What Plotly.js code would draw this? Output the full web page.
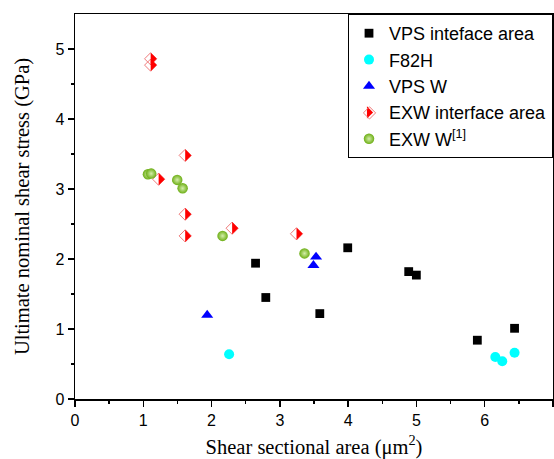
<!DOCTYPE html>
<html>
<head>
<meta charset="utf-8">
<script src="https://cdn.plot.ly/plotly-3.0.1.min.js"></script>
<style>html,body{margin:0;padding:0;background:#fff;}#chart{width:554px;height:459px;}</style>
</head>
<body>
<div id="chart"></div>
<script>
// ---- data ----
const vpsInterfaceX = [2.644, 2.794, 3.585, 3.994, 4.887, 4.999, 5.892, 6.437];
const vpsInterfaceY = [1.94, 1.45, 1.22, 2.16, 1.82, 1.77, 0.84, 1.01];

const f82hX = [2.257, 6.155, 6.257, 6.437];
const f82hY = [0.64, 0.60, 0.54, 0.66];

const vpsWX = [1.936, 3.530, 3.492];
const vpsWY = [1.20, 2.03, 1.91];

const exwInterfaceX = [1.108, 1.108, 1.614, 1.225, 1.614, 1.614, 2.301, 3.244];
const exwInterfaceY = [4.86, 4.77, 3.48, 3.14, 2.64, 2.33, 2.44, 2.36];

const exwWX = [1.068, 1.116, 1.497, 1.576, 2.161, 3.361];
const exwWY = [3.21, 3.22, 3.13, 3.01, 2.33, 2.08];

const xTickVals = [0, 1, 2, 3, 4, 5, 6, 7];
const yTickVals = [0, 1, 2, 3, 4, 5];
const xMinorVals = [0.5, 1.5, 2.5, 3.5, 4.5, 5.5, 6.5];
const yMinorVals = [0.5, 1.5, 2.5, 3.5, 4.5];

const seriesNames = ["VPS inteface area", "F82H", "VPS W", "EXW interface area", "EXW W<sup>[1]</sup>"];

// ---- layout constants ----
const W = 554, H = 459;
const margin = {l: 75, r: 1, t: 14, b: 60};
const xRange = [0, 7];
const yRange = [0, 5.5];
const halfSize = 9.6;          // size of the filled half-diamond marker
const pxPerUnit = (W - margin.l - margin.r) / (xRange[1] - xRange[0]);
// triangle-ne rotated 45deg is a half-diamond whose straight edge sits 0.424*r left of its centre;
// the overlay axis is shifted so that edge lands on the data point.
const shiftPx = 0.424 * halfSize / 2;
const xShift = shiftPx / pxPerUnit;

const sans = "Liberation Sans, Arial, sans-serif";
const serif = "Liberation Serif, Times New Roman, serif";
const legendFont = {family: sans, size: 18, color: '#000'};

const traces = [
  {x: vpsInterfaceX, y: vpsInterfaceY, type: 'scatter', mode: 'markers', name: seriesNames[0],
   marker: {symbol: 'square', size: 8.8, color: '#000000'}},
  {x: f82hX, y: f82hY, type: 'scatter', mode: 'markers', name: seriesNames[1],
   marker: {symbol: 'circle', size: 10, color: '#00ffff'}},
  {x: vpsWX, y: vpsWY, type: 'scatter', mode: 'markers', name: seriesNames[2],
   marker: {symbol: 'triangle-up', size: 10.5, color: '#0000ff'}},
  {x: exwInterfaceX, y: exwInterfaceY, type: 'scatter', mode: 'markers', name: ' ',
   legend: 'legend2',
   marker: {symbol: 'diamond-open', size: 9.4, color: '#f07a7a', line: {width: 1, color: '#f07a7a'}}},
  {x: exwInterfaceX, y: exwInterfaceY, type: 'scatter', mode: 'markers', name: seriesNames[3],
   xaxis: 'x2',
   marker: {symbol: 'triangle-ne', angle: 45, size: halfSize, color: '#ff0000', line: {width: 0}}},
  {x: exwWX, y: exwWY, type: 'scatter', mode: 'markers', name: seriesNames[4],
   marker: {symbol: 'circle', size: 10.5, color: '#6cae14', line: {width: 0},
            gradient: {type: 'radial', color: '#d4eeaa'}}}
];

const axisCommon = {
  showgrid: false, zeroline: false, showline: true, linecolor: '#000', linewidth: 1.5,
  mirror: true, ticks: 'outside', ticklen: 6, tickwidth: 1.5, tickcolor: '#000',
  tickfont: {family: sans, size: 16, color: '#000'}
};

const layout = {
  width: W, height: H, margin: margin,
  paper_bgcolor: '#fff', plot_bgcolor: '#fff',
  showlegend: true,
  xaxis: Object.assign({}, axisCommon, {
    range: xRange, tickvals: xTickVals, ticktext: xTickVals.map(String),
    minor: {tickvals: xMinorVals, ticks: 'outside', ticklen: 3, tickwidth: 1.5, tickcolor: '#000'},
    title: {text: 'Shear sectional area (μm<sup>2</sup>)', font: {family: serif, size: 20.5, color: '#000'}, standoff: 12}
  }),
  xaxis2: {overlaying: 'x', range: [xRange[0] - xShift, xRange[1] - xShift], visible: false, fixedrange: true},
  yaxis: Object.assign({}, axisCommon, {
    range: yRange, tickvals: yTickVals, ticktext: yTickVals.map(String),
    minor: {tickvals: yMinorVals, ticks: 'outside', ticklen: 3, tickwidth: 1.5, tickcolor: '#000'},
    title: {text: 'Ultimate nominal shear stress (GPa)', font: {family: serif, size: 20.5, color: '#000'}, standoff: 20}
  }),
  legend: {x: 1, xanchor: 'right', y: 1, yanchor: 'top', bgcolor: '#fff', bordercolor: '#000', borderwidth: 1,
           font: legendFont, tracegroupgap: 0},
  legend2: {x: 1, xanchor: 'right', y: 1, yanchor: 'top', bgcolor: 'rgba(0,0,0,0)', bordercolor: 'rgba(0,0,0,0)',
            borderwidth: 1, font: legendFont}
};

Plotly.newPlot('chart', traces, layout, {displayModeBar: false, staticPlot: true}).then(function (gd) {
  // place legend2 (open-diamond outline) exactly over the EXW interface legend symbol
  const main = gd.querySelector('.infolayer .legend');
  if (!main) return;
  const items = main.querySelectorAll('.traces');
  const bg = main.querySelector('.bg');
  if (items.length < 4 || !bg) return;
  const tr = function (el) {
    const m = /translate\(\s*([-\d.]+)[ ,]+([-\d.]+)/.exec(el.getAttribute('transform') || '');
    return m ? [parseFloat(m[1]), parseFloat(m[2])] : [0, 0];
  };
  const p0 = tr(items[0]);
  const p3 = tr(items[3]);
  const r = bg.getBoundingClientRect();
  const host = gd.getBoundingClientRect();
  const plotW = W - margin.l - margin.r, plotH = H - margin.t - margin.b;
  const leftPx = r.left - host.left;
  const topPx = r.top - host.top + (p3[1] - p0[1]);
  return Plotly.relayout(gd, {
    'legend2.xanchor': 'left',
    'legend2.x': (leftPx - margin.l) / plotW,
    'legend2.y': 1 - (topPx - margin.t) / plotH
  });
});
</script>
</body>
</html>
